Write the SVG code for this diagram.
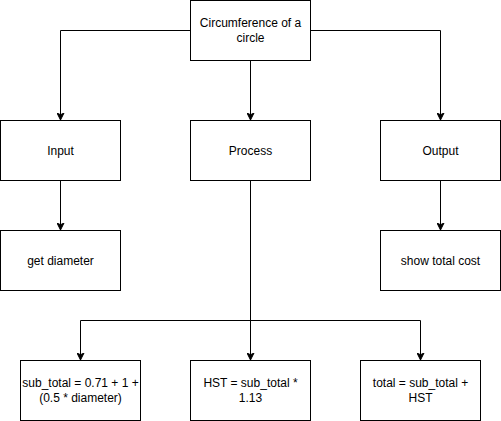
<svg xmlns="http://www.w3.org/2000/svg" width="501" height="421" viewBox="0 0 501 421">
<style>
.n{fill:#fff;stroke:#000;stroke-width:1}
.t{font-family:"Liberation Sans",Arial,sans-serif;font-size:12px;fill:#000;text-anchor:middle}
.c{fill:none;stroke:#000;stroke-width:1}
</style>
<defs>
<marker id="a" markerWidth="8" markerHeight="8" refX="7" refY="4" orient="auto" markerUnits="userSpaceOnUse">
<path d="M0,0.5 L7,4 L0,7.5 L1.75,4 Z" fill="#000" stroke="#000" stroke-width="1"/>
</marker>
</defs>
<rect width="501" height="421" fill="#fff"/>
<g id="connectors">
<path class="c" d="M190.5,30.5 H60.5 V120" marker-end="url(#a)"/>
<path class="c" d="M250.5,60.5 V120" marker-end="url(#a)"/>
<path class="c" d="M310.5,30.5 H440.5 V120" marker-end="url(#a)"/>
<path class="c" d="M60.5,180.5 V230" marker-end="url(#a)"/>
<path class="c" d="M440.5,180.5 V230" marker-end="url(#a)"/>
<path class="c" d="M250.5,180.5 V360" marker-end="url(#a)"/>
<path class="c" d="M250.5,320.5 H80.5 V360" marker-end="url(#a)"/>
<path class="c" d="M250.5,320.5 H420.5 V360" marker-end="url(#a)"/>
</g>
<g id="root"><rect class="n" x="190.5" y="0.5" width="120" height="60"/><text class="t" x="250.5" y="27">Circumference of a</text><text class="t" x="250.5" y="42">circle</text></g>
<g id="input"><rect class="n" x="0.5" y="120.5" width="120" height="60"/><text class="t" x="60.5" y="154.5">Input</text></g>
<g id="process"><rect class="n" x="190.5" y="120.5" width="120" height="60"/><text class="t" x="250.5" y="154.5">Process</text></g>
<g id="output"><rect class="n" x="380.5" y="120.5" width="120" height="60"/><text class="t" x="440.5" y="154.5">Output</text></g>
<g id="getdiam"><rect class="n" x="0.5" y="230.5" width="120" height="60"/><text class="t" x="60.5" y="264.5">get diameter</text></g>
<g id="showcost"><rect class="n" x="380.5" y="230.5" width="120" height="60"/><text class="t" x="440.5" y="264.5">show total cost</text></g>
<g id="subtotal"><rect class="n" x="20.5" y="360.5" width="120" height="60"/><text class="t" x="80.5" y="387">sub_total = 0.71 + 1 +</text><text class="t" x="80.5" y="402">(0.5 * diameter)</text></g>
<g id="hst"><rect class="n" x="190.5" y="360.5" width="120" height="60"/><text class="t" x="250.5" y="387">HST = sub_total *</text><text class="t" x="250.5" y="402">1.13</text></g>
<g id="total"><rect class="n" x="360.5" y="360.5" width="120" height="60"/><text class="t" x="420.5" y="387">total = sub_total +</text><text class="t" x="420.5" y="402">HST</text></g>
</svg>
